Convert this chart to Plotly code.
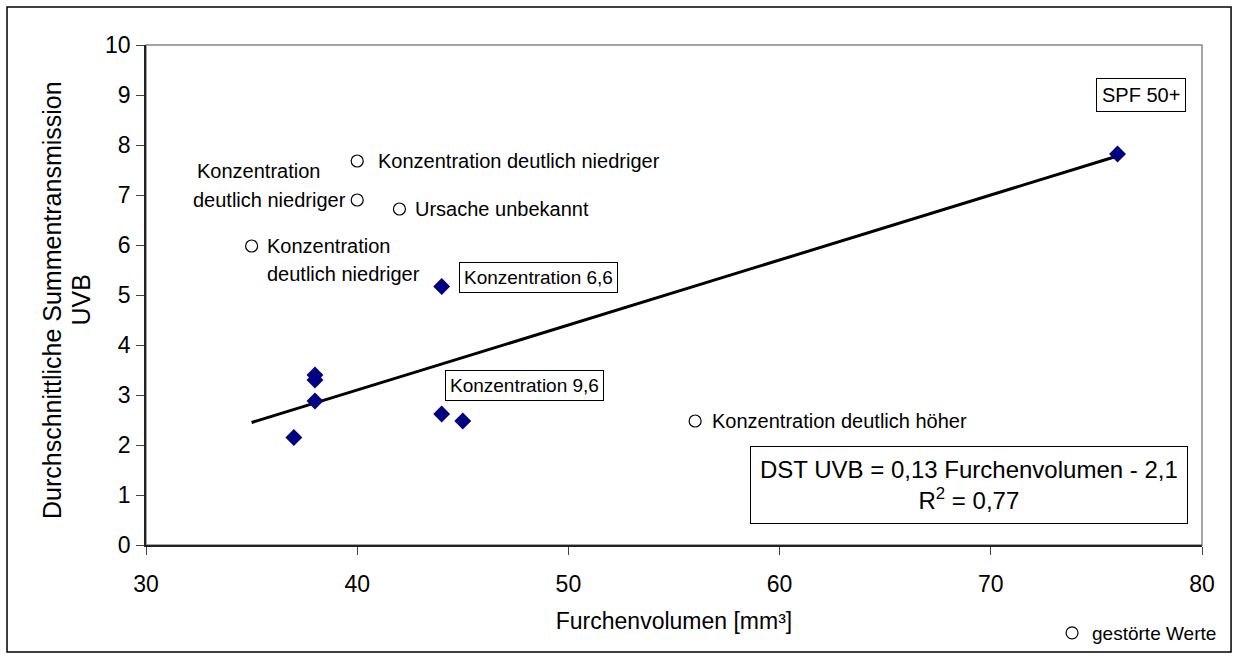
import plotly.graph_objects as go

# Valid measurements (diamonds)
valid_x = [37, 38, 38, 38, 44, 45, 44, 76]
valid_y = [2.15, 2.88, 3.40, 3.30, 2.62, 2.48, 5.17, 7.82]

# Disturbed measurements (open circles, "gestörte Werte")
dist_x = [35, 40, 40, 42, 56]
dist_y = [5.98, 6.90, 7.68, 6.72, 2.48]

# Trend line: DST UVB = 0,13 * Furchenvolumen - 2,1
slope, intercept = 0.13, -2.1
trend_x = [35, 76]
trend_y = [slope * v + intercept for v in trend_x]

FONT = "Liberation Sans, Arial, sans-serif"

fig = go.Figure()
fig.add_trace(go.Scatter(x=trend_x, y=trend_y, mode="lines",
                         line=dict(color="black", width=3), showlegend=False,
                         hoverinfo="skip"))
fig.add_trace(go.Scatter(x=valid_x, y=valid_y, mode="markers",
                         marker=dict(symbol="diamond", size=13, color="#000080",
                                     line=dict(width=0)), showlegend=False))
fig.add_trace(go.Scatter(x=dist_x, y=dist_y, mode="markers", name="gestörte Werte",
                         marker=dict(symbol="circle-open", size=12, color="black",
                                     line=dict(width=1.2, color="black")),
                         showlegend=True))

ann = []
def lab(x, y, text, xanchor="left", xshift=0, yshift=0, size=20):
    ann.append(dict(x=x, y=y, xref="x", yref="y", text=text, showarrow=False,
                    xanchor=xanchor, yanchor="middle", xshift=xshift, yshift=yshift,
                    font=dict(size=size, color="black", family=FONT)))

lab(40, 7.68, "Konzentration deutlich niedriger", xshift=19)
lab(40, 6.90, "Konzentration", xshift=-162, yshift=29)
lab(40, 6.90, "deutlich niedriger", xanchor="right", xshift=-9)
lab(42, 6.72, "Ursache unbekannt", xshift=14)
lab(35, 5.98, "Konzentration", xshift=13)
lab(35, 5.98, "deutlich niedriger", xshift=13, yshift=-28)
lab(56, 2.48, "Konzentration deutlich höher", xshift=15)

def boxed(x, y, text, size=19, pad=4):
    ann.append(dict(x=x, y=y, xref="x", yref="y", text=text, showarrow=False,
                    xanchor="center", yanchor="middle", bordercolor="black",
                    borderwidth=1, borderpad=pad, bgcolor="white",
                    font=dict(size=size, color="black", family=FONT)))

boxed(48.6, 5.36, "Konzentration 6,6", pad=4)
boxed(47.92, 3.2, "Konzentration 9,6", pad=4)
boxed(77.09, 9.0, "SPF 50+", size=20, pad=5)
ann.append(dict(x=68.99, y=1.2, xref="x", yref="y",
                text="DST UVB = 0,13 Furchenvolumen - 2,1<br>R<sup>2</sup> = 0,77",
                showarrow=False, xanchor="center", yanchor="middle", align="center",
                bordercolor="black", borderwidth=1, borderpad=9, bgcolor="white",
                font=dict(size=24, color="black", family=FONT)))

# y-axis title, two lines placed close together as in the reference
y_title_lines = ["Durchschnittliche Summentransmission", "UVB"]
for txt, xp in zip(y_title_lines, [-0.089, -0.062]):
    ann.append(dict(x=xp, y=0.49, xref="paper", yref="paper", text=txt,
                    showarrow=False, textangle=-90, xanchor="center", yanchor="middle",
                    font=dict(size=25, color="black", family=FONT)))

fig.update_layout(
    width=1237, height=660,
    margin=dict(l=146, r=35, t=45, b=115, autoexpand=False),
    paper_bgcolor="white", plot_bgcolor="white",
    font=dict(family=FONT, color="black"),
    annotations=ann,
    legend=dict(x=0.858, y=-0.176, xanchor="left", yanchor="middle",
                font=dict(size=19, family=FONT, color="black"),
                itemwidth=30, bgcolor="rgba(0,0,0,0)", tracegroupgap=0),
    xaxis=dict(range=[30, 80], tickvals=[30, 40, 50, 60, 70, 80],
               showgrid=False, zeroline=False, showline=True, linecolor="#222",
               linewidth=1.5, ticks="outside", ticklen=8, tickcolor="#444",
               ticklabelstandoff=10,
               tickfont=dict(size=23, family=FONT, color="black"),
               title=dict(text="Furchenvolumen [mm³]", standoff=17,
                          font=dict(size=23, family=FONT, color="black"))),
    yaxis=dict(range=[0, 10], tickvals=list(range(0, 11)),
               showgrid=False, zeroline=False, showline=True, linecolor="#222",
               linewidth=1.5, ticks="outside", ticklen=8, tickcolor="#444",
               ticklabelstandoff=1,
               tickfont=dict(size=23, family=FONT, color="black")),
    shapes=[
        dict(type="rect", xref="paper", yref="paper", x0=0, x1=1, y0=0, y1=1,
             line=dict(color="#888", width=1.5), layer="below"),
        dict(type="rect", xref="paper", yref="paper", x0=-0.1316, x1=1.0275,
             y0=-0.214, y1=1.076, line=dict(color="black", width=1.5)),
    ],
)

fig.write_html("out.html")
